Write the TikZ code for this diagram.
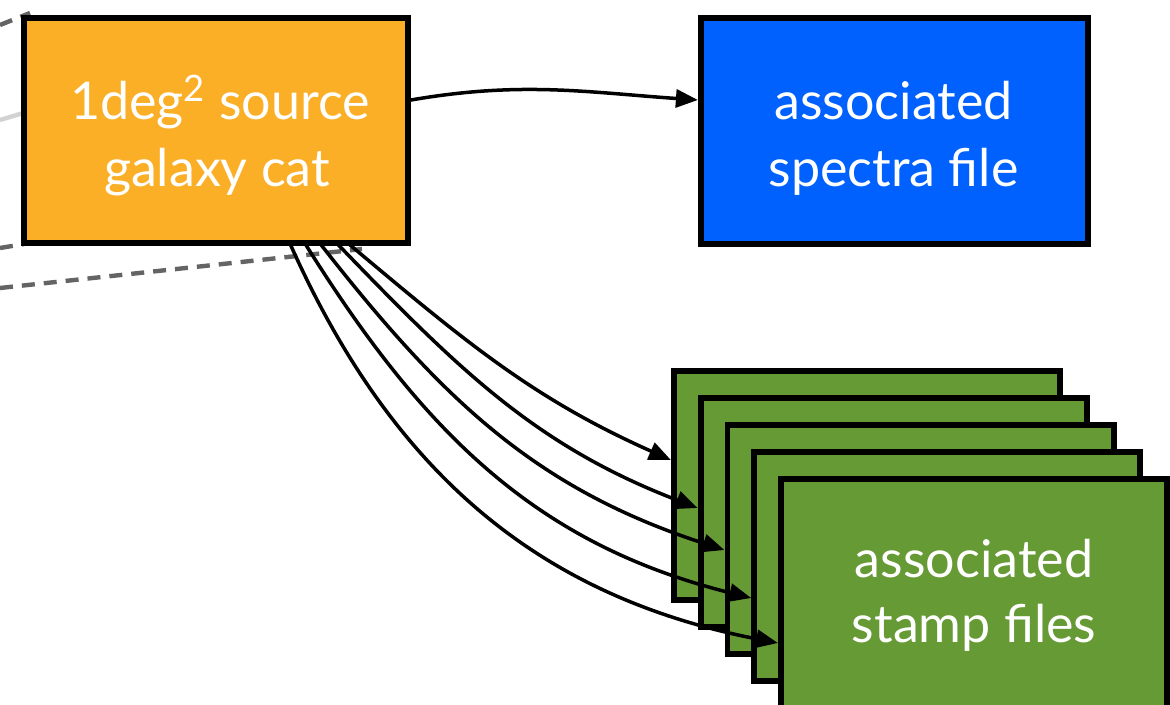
\documentclass[tikz,border=0pt]{standalone}
\usepackage{fontspec}
\setmainfont{Lato}
\usetikzlibrary{arrows.meta,calc}
\definecolor{orangebox}{RGB}{251,175,38}
\definecolor{bluebox}{RGB}{0,97,254}
\definecolor{greenbox}{RGB}{102,154,53}
\definecolor{dashgray}{RGB}{100,100,100}
\definecolor{palegray}{RGB}{210,210,210}
\begin{document}
\begin{tikzpicture}[x=0.5pt,y=-0.5pt,
  filebox/.style={draw=black,line width=2.9pt,rectangle,inner sep=0pt,outer sep=0pt},
  stampbox/.style={filebox,fill=greenbox,minimum width=193.1pt,minimum height=114.6pt},
  boxtext/.style={text=white,font=\fontsize{26}{31}\selectfont,anchor=base,inner sep=0pt},
  conn/.style={line width=1.75pt,-{Triangle[length=11pt,width=9pt]}},
  graydash/.style={draw=dashgray,line width=2.2pt,dash pattern=on 6.5pt off 4.5pt}]
\useasboundingbox (0,0) rectangle (1170,705);
\clip (0,0) rectangle (1170,705);
% background guide lines
\coordinate (d1s) at (0,25);   \coordinate (d1e) at (30,13);
\coordinate (d2s) at (0,120);  \coordinate (d2e) at (30,111);
\coordinate (d3s) at (0,248);  \coordinate (d3e) at (30,243);
\coordinate (d4s) at (0,288);  \coordinate (d4e) at (362,249);
\draw[graydash] (d1s) -- (d1e);
\draw[draw=palegray,line width=2.2pt] (d2s) -- (d2e);
\draw[graydash] (d3s) -- (d3e);
\draw[graydash] (d4s) -- (d4e);
% boxes
\node[filebox,fill=orangebox,minimum width=192.1pt,minimum height=112.6pt] (src) at (216,130.5) {};
\node[filebox,fill=bluebox,minimum width=193.6pt,minimum height=113.1pt] (spec) at (894.5,131) {};
\node[stampbox] (g1) at (867,485.5) {};
\node[stampbox] (g2) at (893.75,512.5) {};
\node[stampbox] (g3) at (920.5,539.5) {};
\node[stampbox] (g4) at (947.25,566.5) {};
\node[stampbox] (g5) at (974,593.5) {};
% texts
\node[boxtext] (srcA) at ($(src.center)+(4,-10.5)$) {1deg\textsuperscript{2} source};
\node[boxtext] (srcB) at ($(src.center)+(1,56.5)$) {galaxy cat};
\node[boxtext] (specA) at ($(spec.center)+(-1,-11)$) {associated};
\node[boxtext] (specB) at ($(spec.center)+(-1,56)$) {spectra file};
\node[boxtext] (stA) at ($(g5.center)+(0,-16.5)$) {associated};
\node[boxtext] (stB) at ($(g5.center)+(0,48.5)$) {stamp files};
% connectors
\coordinate (a0) at ($(src.east)+(0,-30)$);
\coordinate (b0) at ($(spec.west)+(-3,-31)$);
\draw[conn] (a0) to[out=10,in=176] (b0);
\foreach \f/\g/\dy/\o/\i in {0.843/g1/-25.5/-40/156, 0.814/g2/-4.5/-46/159, 0.770/g3/10.5/-52/162, 0.731/g4/31.5/-58/166, 0.692/g5/49.5/-66/169}
  \draw[conn] ($(src.south west)!\f!(src.south east)$) to[out=\o,in=\i] ($(\g.west)+(-3,\dy)$);
\end{tikzpicture}
\end{document}
